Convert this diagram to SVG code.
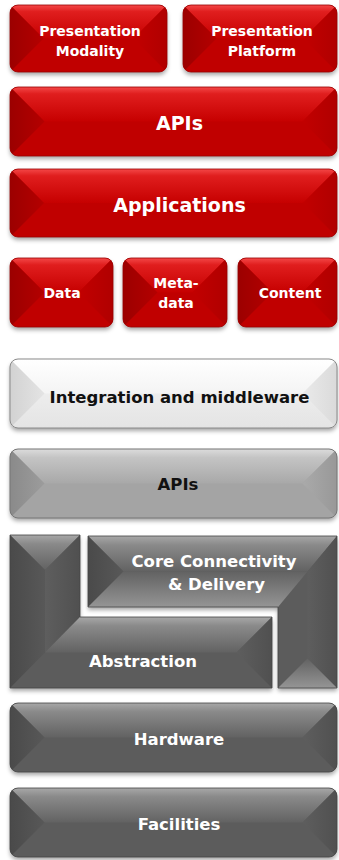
<svg xmlns="http://www.w3.org/2000/svg" width="339" height="860" viewBox="0 0 339 860">
<defs>
<style>
text{font-family:"DejaVu Sans","Liberation Sans",sans-serif;font-weight:bold;text-anchor:middle}
.tw{fill:#ffffff}
.tb{fill:#111111}
.s14{font-size:14px}
.s19{font-size:19px}
.s16{font-size:16.5px}
.rB{fill:#C00000}
.rT{fill:url(#rTop)}
.rL{fill:url(#rLeft)}
.rR{fill:url(#rRight)}
.rO{fill:none;stroke:#9A0000;stroke-width:0.8}
.dB{fill:#5C5C5C}
.dT{fill:url(#dTop)}
.dL{fill:url(#dLeft)}
.dR{fill:url(#dRight)}
.dU{fill:url(#dUp)}
.dO{fill:none;stroke:#444444;stroke-width:0.8}
.gB{fill:#A4A4A4}
.gT{fill:url(#gTop)}
.gL{fill:url(#gLeft)}
.gR{fill:url(#gRight)}
.gO{fill:none;stroke:#767676;stroke-width:1}
.wB{fill:url(#wBase)}
.wT{fill:url(#wTop)}
.wL{fill:url(#wLeft)}
.wR{fill:url(#wRight)}
.wO{fill:none;stroke:#8A8A8A;stroke-width:1}
.sh{filter:url(#shadow)}
</style>
<filter id="shadow" x="-10%" y="-20%" width="120%" height="150%">
<feDropShadow dx="0" dy="3" stdDeviation="2" flood-color="#000000" flood-opacity="0.35"/>
</filter>
<linearGradient id="rTop" x1="0" y1="0" x2="0" y2="1"><stop offset="0" stop-color="#F44848"/><stop offset="0.2" stop-color="#E01E1E"/><stop offset="1" stop-color="#C60000"/></linearGradient>
<linearGradient id="rLeft" x1="0" y1="0" x2="1" y2="0"><stop offset="0" stop-color="#9C0000"/><stop offset="1" stop-color="#B40000"/></linearGradient>
<linearGradient id="rRight" x1="0" y1="0" x2="1" y2="0"><stop offset="0" stop-color="#C20000"/><stop offset="1" stop-color="#B00000"/></linearGradient>
<linearGradient id="dTop" x1="0" y1="0" x2="0" y2="1"><stop offset="0" stop-color="#A8A8A8"/><stop offset="0.25" stop-color="#8A8A8A"/><stop offset="1" stop-color="#626262"/></linearGradient>
<linearGradient id="dUp" x1="0" y1="1" x2="0" y2="0"><stop offset="0" stop-color="#959595"/><stop offset="1" stop-color="#626262"/></linearGradient>
<linearGradient id="dLeft" x1="0" y1="0" x2="1" y2="0"><stop offset="0" stop-color="#4A4A4A"/><stop offset="1" stop-color="#585858"/></linearGradient>
<linearGradient id="dRight" x1="0" y1="0" x2="1" y2="0"><stop offset="0" stop-color="#5E5E5E"/><stop offset="1" stop-color="#505050"/></linearGradient>
<linearGradient id="gTop" x1="0" y1="0" x2="0" y2="1"><stop offset="0" stop-color="#DCDCDC"/><stop offset="0.25" stop-color="#C4C4C4"/><stop offset="1" stop-color="#A8A8A8"/></linearGradient>
<linearGradient id="gLeft" x1="0" y1="0" x2="1" y2="0"><stop offset="0" stop-color="#8A8A8A"/><stop offset="1" stop-color="#9C9C9C"/></linearGradient>
<linearGradient id="gRight" x1="0" y1="0" x2="1" y2="0"><stop offset="0" stop-color="#AAAAAA"/><stop offset="1" stop-color="#989898"/></linearGradient>
<linearGradient id="wBase" x1="0" y1="0" x2="0" y2="1"><stop offset="0" stop-color="#F6F6F6"/><stop offset="1" stop-color="#E4E4E4"/></linearGradient>
<linearGradient id="wTop" x1="0" y1="0" x2="0" y2="1"><stop offset="0" stop-color="#FFFFFF"/><stop offset="1" stop-color="#F4F4F4"/></linearGradient>
<linearGradient id="wLeft" x1="0" y1="0" x2="1" y2="0"><stop offset="0" stop-color="#D2D2D2"/><stop offset="1" stop-color="#E4E4E4"/></linearGradient>
<linearGradient id="wRight" x1="0" y1="0" x2="1" y2="0"><stop offset="0" stop-color="#EAEAEA"/><stop offset="1" stop-color="#DADADA"/></linearGradient>
<clipPath id="c1"><rect x="10" y="5" width="157" height="67" rx="8"/></clipPath>
<clipPath id="c2"><rect x="183" y="5" width="154" height="67" rx="8"/></clipPath>
<clipPath id="c3"><rect x="10" y="87" width="327" height="69" rx="8"/></clipPath>
<clipPath id="c4"><rect x="10" y="169" width="327" height="68" rx="8"/></clipPath>
<clipPath id="c5"><rect x="10" y="258" width="103" height="69" rx="8"/></clipPath>
<clipPath id="c6"><rect x="123" y="258" width="104" height="69" rx="8"/></clipPath>
<clipPath id="c7"><rect x="238" y="258" width="99" height="69" rx="8"/></clipPath>
<clipPath id="c8"><rect x="10" y="359" width="327" height="69" rx="8"/></clipPath>
<clipPath id="c9"><rect x="10" y="449" width="327" height="69" rx="8"/></clipPath>
<clipPath id="c10"><rect x="10" y="703" width="327" height="69" rx="8"/></clipPath>
<clipPath id="c11"><rect x="10" y="788" width="327" height="69" rx="8"/></clipPath>
</defs>
<rect width="339" height="860" fill="#ffffff"/>

<g id="presentation-modality">
<rect class="rB sh" x="10" y="5" width="157" height="67" rx="8"/>
<g clip-path="url(#c1)">
<polygon class="rT" points="10,5 167,5 133.5,38.5 43.5,38.5"/>
<polygon class="rL" points="10,5 43.5,38.5 10,72"/>
<polygon class="rR" points="167,5 167,72 133.5,38.5"/>
</g>
<rect class="rO" x="10" y="5" width="157" height="67" rx="8"/>
<text class="tw s14" x="90" y="36">Presentation</text>
<text class="tw s14" x="90" y="56">Modality</text>
</g>

<g id="presentation-platform">
<rect class="rB sh" x="183" y="5" width="154" height="67" rx="8"/>
<g clip-path="url(#c2)">
<polygon class="rT" points="183,5 337,5 303.5,38.5 216.5,38.5"/>
<polygon class="rL" points="183,5 216.5,38.5 183,72"/>
<polygon class="rR" points="337,5 337,72 303.5,38.5"/>
</g>
<rect class="rO" x="183" y="5" width="154" height="67" rx="8"/>
<text class="tw s14" x="262" y="36">Presentation</text>
<text class="tw s14" x="262" y="56">Platform</text>
</g>

<g id="apis-red">
<rect class="rB sh" x="10" y="87" width="327" height="69" rx="8"/>
<g clip-path="url(#c3)">
<polygon class="rT" points="10,87 337,87 302.5,121.5 44.5,121.5"/>
<polygon class="rL" points="10,87 44.5,121.5 10,156"/>
<polygon class="rR" points="337,87 337,156 302.5,121.5"/>
</g>
<rect class="rO" x="10" y="87" width="327" height="69" rx="8"/>
<text class="tw s19" x="179.5" y="130">APIs</text>
</g>

<g id="applications">
<rect class="rB sh" x="10" y="169" width="327" height="68" rx="8"/>
<g clip-path="url(#c4)">
<polygon class="rT" points="10,169 337,169 303,203 44,203"/>
<polygon class="rL" points="10,169 44,203 10,237"/>
<polygon class="rR" points="337,169 337,237 303,203"/>
</g>
<rect class="rO" x="10" y="169" width="327" height="68" rx="8"/>
<text class="tw s19" x="179.5" y="212">Applications</text>
</g>

<g id="data">
<rect class="rB sh" x="10" y="258" width="103" height="69" rx="8"/>
<g clip-path="url(#c5)">
<polygon class="rT" points="10,258 113,258 78.5,292.5 44.5,292.5"/>
<polygon class="rL" points="10,258 44.5,292.5 10,327"/>
<polygon class="rR" points="113,258 113,327 78.5,292.5"/>
</g>
<rect class="rO" x="10" y="258" width="103" height="69" rx="8"/>
<text class="tw s14" x="62" y="298">Data</text>
</g>

<g id="metadata">
<rect class="rB sh" x="123" y="258" width="104" height="69" rx="8"/>
<g clip-path="url(#c6)">
<polygon class="rT" points="123,258 227,258 192.5,292.5 157.5,292.5"/>
<polygon class="rL" points="123,258 157.5,292.5 123,327"/>
<polygon class="rR" points="227,258 227,327 192.5,292.5"/>
</g>
<rect class="rO" x="123" y="258" width="104" height="69" rx="8"/>
<text class="tw s14" x="176" y="288">Meta-</text>
<text class="tw s14" x="176" y="308">data</text>
</g>

<g id="content">
<rect class="rB sh" x="238" y="258" width="99" height="69" rx="8"/>
<g clip-path="url(#c7)">
<polygon class="rT" points="238,258 337,258 302.5,292.5 272.5,292.5"/>
<polygon class="rL" points="238,258 272.5,292.5 238,327"/>
<polygon class="rR" points="337,258 337,327 302.5,292.5"/>
</g>
<rect class="rO" x="238" y="258" width="99" height="69" rx="8"/>
<text class="tw s14" x="290" y="298">Content</text>
</g>

<g id="integration">
<rect class="wB sh" x="10" y="359" width="327" height="69" rx="8"/>
<g clip-path="url(#c8)">
<polygon class="wT" points="10,359 337,359 302.5,393.5 44.5,393.5"/>
<polygon class="wL" points="10,359 44.5,393.5 10,428"/>
<polygon class="wR" points="337,359 337,428 302.5,393.5"/>
</g>
<rect class="wO" x="10" y="359" width="327" height="69" rx="8"/>
<text class="tb s16" x="179.5" y="403">Integration and middleware</text>
</g>

<g id="apis-gray">
<rect class="gB sh" x="10" y="449" width="327" height="69" rx="8"/>
<g clip-path="url(#c9)">
<polygon class="gT" points="10,449 337,449 302.5,483.5 44.5,483.5"/>
<polygon class="gL" points="10,449 44.5,483.5 10,518"/>
<polygon class="gR" points="337,449 337,518 302.5,483.5"/>
</g>
<rect class="gO" x="10" y="449" width="327" height="69" rx="8"/>
<text class="tb s16" x="178" y="490">APIs</text>
</g>

<g id="abstraction">
<polygon class="dB sh" points="10,535 80,535 80,617 272,617 272,688 10,688"/>
<polygon class="dT" points="10,535 80,535 45,570"/>
<polygon class="dL" points="10,535 45,570 45,652.5 10,688"/>
<polygon class="dR" points="80,535 80,617 45,652.5 45,570"/>
<polygon class="dT" points="80,617 272,617 236.5,652.5 45,652.5"/>
<polygon class="dR" points="272,617 272,688 236.5,652.5"/>
<polygon class="dO" points="10,535 80,535 80,617 272,617 272,688 10,688"/>
<text class="tw s16" x="143" y="667">Abstraction</text>
</g>

<g id="core-connectivity">
<polygon class="dB sh" points="88,536 337,536 337,688 278,688 278,607 88,607"/>
<polygon class="dT" points="88,536 337,536 307.5,571.5 123.5,571.5"/>
<polygon class="dL" points="88,536 123.5,571.5 88,607"/>
<polygon class="dU" points="88,607 278,607 307.5,571.5 123.5,571.5"/>
<polygon class="dR" points="337,536 307.5,571.5 307.5,658.5 337,688"/>
<polygon class="dU" points="278,688 337,688 307.5,658.5"/>
<polygon class="dO" points="88,536 337,536 337,688 278,688 278,607 88,607"/>
<text class="tw s16" x="214" y="567">Core Connectivity</text>
<text class="tw s16" x="216.5" y="590">&amp; Delivery</text>
</g>

<g id="hardware">
<rect class="dB sh" x="10" y="703" width="327" height="69" rx="8"/>
<g clip-path="url(#c10)">
<polygon class="dT" points="10,703 337,703 302.5,737.5 44.5,737.5"/>
<polygon class="dL" points="10,703 44.5,737.5 10,772"/>
<polygon class="dR" points="337,703 337,772 302.5,737.5"/>
</g>
<rect class="dO" x="10" y="703" width="327" height="69" rx="8"/>
<text class="tw s16" x="179" y="745">Hardware</text>
</g>

<g id="facilities">
<rect class="dB sh" x="10" y="788" width="327" height="69" rx="8"/>
<g clip-path="url(#c11)">
<polygon class="dT" points="10,788 337,788 302.5,822.5 44.5,822.5"/>
<polygon class="dL" points="10,788 44.5,822.5 10,857"/>
<polygon class="dR" points="337,788 337,857 302.5,822.5"/>
</g>
<rect class="dO" x="10" y="788" width="327" height="69" rx="8"/>
<text class="tw s16" x="179" y="830">Facilities</text>
</g>

<g id="connectors"></g>
</svg>
